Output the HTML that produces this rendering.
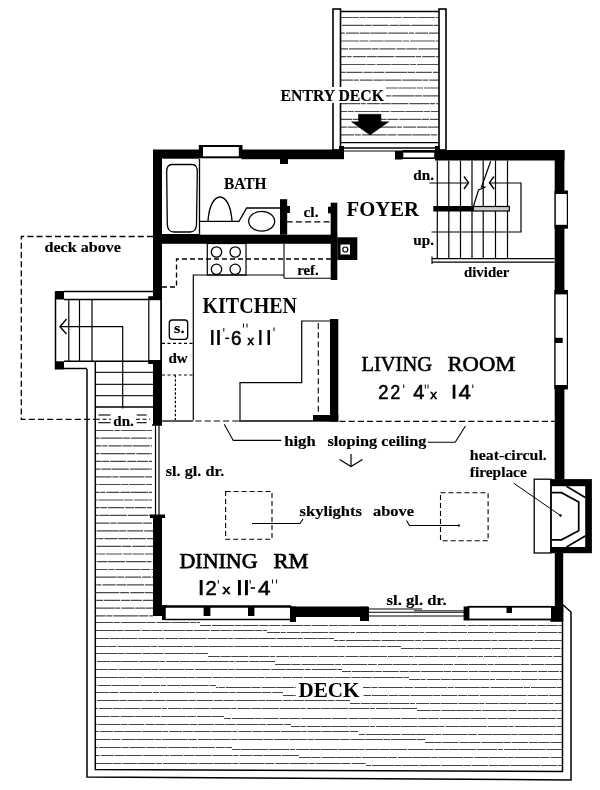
<!DOCTYPE html>
<html><head><meta charset="utf-8"><style>
html,body{margin:0;padding:0;background:#fff;width:600px;height:790px;overflow:hidden}
svg{display:block;will-change:transform}
</style></head><body>
<svg width="600" height="790" viewBox="0 0 600 790">
<rect x="0" y="0" width="600" height="790" fill="#fff"/>
<line x1="341" y1="17.5" x2="438.5" y2="17.5" stroke="#505050" stroke-width="1.2" stroke-dasharray="18,0.8,6,1,25,0.7,9,1.2,14,0.6" stroke-dashoffset="0"/>
<line x1="341" y1="25.3" x2="438.5" y2="25.3" stroke="#505050" stroke-width="1.2" stroke-dasharray="11,1,22,0.6,7,0.9,16,1.1,9,0.7" stroke-dashoffset="11"/>
<line x1="341" y1="33.2" x2="438.5" y2="33.2" stroke="#505050" stroke-width="1.2" stroke-dasharray="20,0.7,5,1.2,13,0.8,10,0.6,17,1" stroke-dashoffset="22"/>
<line x1="341" y1="41.0" x2="438.5" y2="41.0" stroke="#505050" stroke-width="1.2" stroke-dasharray="18,0.8,6,1,25,0.7,9,1.2,14,0.6" stroke-dashoffset="33"/>
<line x1="341" y1="48.8" x2="438.5" y2="48.8" stroke="#505050" stroke-width="1.2" stroke-dasharray="11,1,22,0.6,7,0.9,16,1.1,9,0.7" stroke-dashoffset="4"/>
<line x1="341" y1="56.6" x2="438.5" y2="56.6" stroke="#505050" stroke-width="1.2" stroke-dasharray="20,0.7,5,1.2,13,0.8,10,0.6,17,1" stroke-dashoffset="15"/>
<line x1="341" y1="64.5" x2="438.5" y2="64.5" stroke="#505050" stroke-width="1.2" stroke-dasharray="18,0.8,6,1,25,0.7,9,1.2,14,0.6" stroke-dashoffset="26"/>
<line x1="341" y1="72.3" x2="438.5" y2="72.3" stroke="#505050" stroke-width="1.2" stroke-dasharray="11,1,22,0.6,7,0.9,16,1.1,9,0.7" stroke-dashoffset="37"/>
<line x1="341" y1="80.1" x2="438.5" y2="80.1" stroke="#505050" stroke-width="1.2" stroke-dasharray="20,0.7,5,1.2,13,0.8,10,0.6,17,1" stroke-dashoffset="8"/>
<line x1="341" y1="88.0" x2="438.5" y2="88.0" stroke="#505050" stroke-width="1.2" stroke-dasharray="18,0.8,6,1,25,0.7,9,1.2,14,0.6" stroke-dashoffset="19"/>
<line x1="341" y1="95.8" x2="438.5" y2="95.8" stroke="#505050" stroke-width="1.2" stroke-dasharray="11,1,22,0.6,7,0.9,16,1.1,9,0.7" stroke-dashoffset="30"/>
<line x1="341" y1="103.6" x2="438.5" y2="103.6" stroke="#505050" stroke-width="1.2" stroke-dasharray="20,0.7,5,1.2,13,0.8,10,0.6,17,1" stroke-dashoffset="1"/>
<line x1="341" y1="111.5" x2="438.5" y2="111.5" stroke="#505050" stroke-width="1.2" stroke-dasharray="18,0.8,6,1,25,0.7,9,1.2,14,0.6" stroke-dashoffset="12"/>
<line x1="341" y1="119.3" x2="438.5" y2="119.3" stroke="#505050" stroke-width="1.2" stroke-dasharray="11,1,22,0.6,7,0.9,16,1.1,9,0.7" stroke-dashoffset="23"/>
<line x1="341" y1="127.1" x2="438.5" y2="127.1" stroke="#505050" stroke-width="1.2" stroke-dasharray="20,0.7,5,1.2,13,0.8,10,0.6,17,1" stroke-dashoffset="34"/>
<line x1="341" y1="134.9" x2="438.5" y2="134.9" stroke="#505050" stroke-width="1.2" stroke-dasharray="18,0.8,6,1,25,0.7,9,1.2,14,0.6" stroke-dashoffset="5"/>
<line x1="341.0" y1="11.5" x2="438.5" y2="11.5" stroke="#000" stroke-width="1.6"/>
<line x1="341.0" y1="142.7" x2="438.5" y2="142.7" stroke="#000" stroke-width="1.3"/>
<line x1="341.0" y1="148.0" x2="438.5" y2="148.0" stroke="#000" stroke-width="1.3"/>
<rect x="333.0" y="9.0" width="7.5" height="141.0" fill="#fff" stroke="#000" stroke-width="1.6"/>
<rect x="439.0" y="9.0" width="7.0" height="141.0" fill="#fff" stroke="#000" stroke-width="1.6"/>
<polygon points="358.5,114.3 381.0,114.3 381.0,121.8 388.8,121.8 370.0,135.0 351.5,121.8 358.5,121.8" fill="#000" stroke="#000" stroke-width="0.5"/>
<rect x="278.0" y="87.0" width="108.0" height="16.0" fill="#fff"/>
<text x="280.5" y="100.6" font-family='"Liberation Serif", serif' font-size="16" font-weight="bold" textLength="103.5" lengthAdjust="spacingAndGlyphs" stroke="#000" stroke-width="0.15">ENTRY DECK</text>
<line x1="95" y1="622.5" x2="200" y2="622.5" stroke="#444" stroke-width="1.2" stroke-dasharray="18,0.8,6,1,25,0.7,9,1.2,14,0.6" stroke-dashoffset="0"/>
<line x1="200" y1="625.5" x2="562" y2="625.5" stroke="#444" stroke-width="1.2" stroke-dasharray="11,1,22,0.6,7,0.9,16,1.1,9,0.7" stroke-dashoffset="0"/>
<line x1="95" y1="630.5" x2="267" y2="630.5" stroke="#444" stroke-width="1.2" stroke-dasharray="11,1,22,0.6,7,0.9,16,1.1,9,0.7" stroke-dashoffset="13"/>
<line x1="267" y1="632.5" x2="562" y2="632.5" stroke="#444" stroke-width="1.2" stroke-dasharray="20,0.7,5,1.2,13,0.8,10,0.6,17,1" stroke-dashoffset="7"/>
<line x1="95" y1="638.5" x2="334" y2="638.5" stroke="#444" stroke-width="1.2" stroke-dasharray="20,0.7,5,1.2,13,0.8,10,0.6,17,1" stroke-dashoffset="26"/>
<line x1="334" y1="640.5" x2="562" y2="640.5" stroke="#444" stroke-width="1.2" stroke-dasharray="18,0.8,6,1,25,0.7,9,1.2,14,0.6" stroke-dashoffset="14"/>
<line x1="95" y1="646.5" x2="401" y2="646.5" stroke="#444" stroke-width="1.2" stroke-dasharray="18,0.8,6,1,25,0.7,9,1.2,14,0.6" stroke-dashoffset="39"/>
<line x1="401" y1="648.5" x2="562" y2="648.5" stroke="#444" stroke-width="1.2" stroke-dasharray="11,1,22,0.6,7,0.9,16,1.1,9,0.7" stroke-dashoffset="21"/>
<line x1="95" y1="653.5" x2="208" y2="653.5" stroke="#444" stroke-width="1.2" stroke-dasharray="11,1,22,0.6,7,0.9,16,1.1,9,0.7" stroke-dashoffset="12"/>
<line x1="208" y1="656.5" x2="562" y2="656.5" stroke="#444" stroke-width="1.2" stroke-dasharray="20,0.7,5,1.2,13,0.8,10,0.6,17,1" stroke-dashoffset="28"/>
<line x1="95" y1="661.5" x2="275" y2="661.5" stroke="#444" stroke-width="1.2" stroke-dasharray="20,0.7,5,1.2,13,0.8,10,0.6,17,1" stroke-dashoffset="25"/>
<line x1="275" y1="664.5" x2="562" y2="664.5" stroke="#444" stroke-width="1.2" stroke-dasharray="18,0.8,6,1,25,0.7,9,1.2,14,0.6" stroke-dashoffset="35"/>
<line x1="95" y1="669.5" x2="342" y2="669.5" stroke="#444" stroke-width="1.2" stroke-dasharray="18,0.8,6,1,25,0.7,9,1.2,14,0.6" stroke-dashoffset="38"/>
<line x1="342" y1="671.5" x2="562" y2="671.5" stroke="#444" stroke-width="1.2" stroke-dasharray="11,1,22,0.6,7,0.9,16,1.1,9,0.7" stroke-dashoffset="2"/>
<line x1="95" y1="677.5" x2="409" y2="677.5" stroke="#444" stroke-width="1.2" stroke-dasharray="11,1,22,0.6,7,0.9,16,1.1,9,0.7" stroke-dashoffset="11"/>
<line x1="409" y1="679.5" x2="562" y2="679.5" stroke="#444" stroke-width="1.2" stroke-dasharray="20,0.7,5,1.2,13,0.8,10,0.6,17,1" stroke-dashoffset="9"/>
<line x1="95" y1="685.5" x2="216" y2="685.5" stroke="#444" stroke-width="1.2" stroke-dasharray="20,0.7,5,1.2,13,0.8,10,0.6,17,1" stroke-dashoffset="24"/>
<line x1="216" y1="687.5" x2="562" y2="687.5" stroke="#444" stroke-width="1.2" stroke-dasharray="18,0.8,6,1,25,0.7,9,1.2,14,0.6" stroke-dashoffset="16"/>
<line x1="95" y1="692.5" x2="283" y2="692.5" stroke="#444" stroke-width="1.2" stroke-dasharray="18,0.8,6,1,25,0.7,9,1.2,14,0.6" stroke-dashoffset="37"/>
<line x1="283" y1="695.5" x2="562" y2="695.5" stroke="#444" stroke-width="1.2" stroke-dasharray="11,1,22,0.6,7,0.9,16,1.1,9,0.7" stroke-dashoffset="23"/>
<line x1="95" y1="700.5" x2="350" y2="700.5" stroke="#444" stroke-width="1.2" stroke-dasharray="11,1,22,0.6,7,0.9,16,1.1,9,0.7" stroke-dashoffset="10"/>
<line x1="350" y1="703.5" x2="562" y2="703.5" stroke="#444" stroke-width="1.2" stroke-dasharray="20,0.7,5,1.2,13,0.8,10,0.6,17,1" stroke-dashoffset="30"/>
<line x1="95" y1="708.5" x2="417" y2="708.5" stroke="#444" stroke-width="1.2" stroke-dasharray="20,0.7,5,1.2,13,0.8,10,0.6,17,1" stroke-dashoffset="23"/>
<line x1="417" y1="710.5" x2="562" y2="710.5" stroke="#444" stroke-width="1.2" stroke-dasharray="18,0.8,6,1,25,0.7,9,1.2,14,0.6" stroke-dashoffset="37"/>
<line x1="95" y1="716.5" x2="224" y2="716.5" stroke="#444" stroke-width="1.2" stroke-dasharray="18,0.8,6,1,25,0.7,9,1.2,14,0.6" stroke-dashoffset="36"/>
<line x1="224" y1="718.5" x2="562" y2="718.5" stroke="#444" stroke-width="1.2" stroke-dasharray="11,1,22,0.6,7,0.9,16,1.1,9,0.7" stroke-dashoffset="4"/>
<line x1="95" y1="724.5" x2="291" y2="724.5" stroke="#444" stroke-width="1.2" stroke-dasharray="11,1,22,0.6,7,0.9,16,1.1,9,0.7" stroke-dashoffset="9"/>
<line x1="291" y1="726.5" x2="562" y2="726.5" stroke="#444" stroke-width="1.2" stroke-dasharray="20,0.7,5,1.2,13,0.8,10,0.6,17,1" stroke-dashoffset="11"/>
<line x1="95" y1="731.5" x2="358" y2="731.5" stroke="#444" stroke-width="1.2" stroke-dasharray="20,0.7,5,1.2,13,0.8,10,0.6,17,1" stroke-dashoffset="22"/>
<line x1="358" y1="734.5" x2="562" y2="734.5" stroke="#444" stroke-width="1.2" stroke-dasharray="18,0.8,6,1,25,0.7,9,1.2,14,0.6" stroke-dashoffset="18"/>
<line x1="95" y1="739.5" x2="425" y2="739.5" stroke="#444" stroke-width="1.2" stroke-dasharray="18,0.8,6,1,25,0.7,9,1.2,14,0.6" stroke-dashoffset="35"/>
<line x1="425" y1="742.5" x2="562" y2="742.5" stroke="#444" stroke-width="1.2" stroke-dasharray="11,1,22,0.6,7,0.9,16,1.1,9,0.7" stroke-dashoffset="25"/>
<line x1="95" y1="747.5" x2="232" y2="747.5" stroke="#444" stroke-width="1.2" stroke-dasharray="11,1,22,0.6,7,0.9,16,1.1,9,0.7" stroke-dashoffset="8"/>
<line x1="232" y1="749.5" x2="562" y2="749.5" stroke="#444" stroke-width="1.2" stroke-dasharray="20,0.7,5,1.2,13,0.8,10,0.6,17,1" stroke-dashoffset="32"/>
<line x1="95" y1="755.5" x2="299" y2="755.5" stroke="#444" stroke-width="1.2" stroke-dasharray="20,0.7,5,1.2,13,0.8,10,0.6,17,1" stroke-dashoffset="21"/>
<line x1="299" y1="757.5" x2="562" y2="757.5" stroke="#444" stroke-width="1.2" stroke-dasharray="18,0.8,6,1,25,0.7,9,1.2,14,0.6" stroke-dashoffset="39"/>
<line x1="95" y1="763.5" x2="366" y2="763.5" stroke="#444" stroke-width="1.2" stroke-dasharray="18,0.8,6,1,25,0.7,9,1.2,14,0.6" stroke-dashoffset="34"/>
<line x1="366" y1="765.5" x2="562" y2="765.5" stroke="#444" stroke-width="1.2" stroke-dasharray="11,1,22,0.6,7,0.9,16,1.1,9,0.7" stroke-dashoffset="6"/>
<polyline points="87.0,420.0 87.0,777.0 571.0,780.0 571.0,612.0 562.5,604.5" fill="none" stroke="#000" stroke-width="1.5"/>
<polyline points="95.3,361.3 95.3,769.5 562.5,771.5 562.5,604.5" fill="none" stroke="#000" stroke-width="1.5"/>
<rect x="296.0" y="678.0" width="67.0" height="22.0" fill="#fff"/>
<text x="298.5" y="696.5" font-family='"Liberation Serif", serif' font-size="21" font-weight="bold" textLength="61.0" lengthAdjust="spacingAndGlyphs" >DECK</text>
<line x1="95.6" y1="372.3" x2="153.0" y2="372.3" stroke="#222" stroke-width="1.3"/>
<line x1="95.6" y1="384.3" x2="153.0" y2="384.3" stroke="#222" stroke-width="1.3"/>
<line x1="95.6" y1="395.7" x2="153.0" y2="395.7" stroke="#222" stroke-width="1.3"/>
<line x1="95.6" y1="407.0" x2="153.0" y2="407.0" stroke="#000" stroke-width="1.7"/>
<line x1="95.6" y1="430.5" x2="153" y2="430.5" stroke="#4a4a4a" stroke-width="1.2" stroke-dasharray="18,0.8,6,1,25,0.7,9,1.2,14,0.6" stroke-dashoffset="0"/>
<line x1="95.6" y1="438.2" x2="153" y2="438.2" stroke="#4a4a4a" stroke-width="1.2" stroke-dasharray="11,1,22,0.6,7,0.9,16,1.1,9,0.7" stroke-dashoffset="7"/>
<line x1="95.6" y1="445.9" x2="153" y2="445.9" stroke="#4a4a4a" stroke-width="1.2" stroke-dasharray="20,0.7,5,1.2,13,0.8,10,0.6,17,1" stroke-dashoffset="14"/>
<line x1="95.6" y1="453.7" x2="153" y2="453.7" stroke="#4a4a4a" stroke-width="1.2" stroke-dasharray="18,0.8,6,1,25,0.7,9,1.2,14,0.6" stroke-dashoffset="21"/>
<line x1="95.6" y1="461.4" x2="153" y2="461.4" stroke="#4a4a4a" stroke-width="1.2" stroke-dasharray="11,1,22,0.6,7,0.9,16,1.1,9,0.7" stroke-dashoffset="28"/>
<line x1="95.6" y1="469.1" x2="153" y2="469.1" stroke="#4a4a4a" stroke-width="1.2" stroke-dasharray="20,0.7,5,1.2,13,0.8,10,0.6,17,1" stroke-dashoffset="35"/>
<line x1="95.6" y1="476.8" x2="153" y2="476.8" stroke="#4a4a4a" stroke-width="1.2" stroke-dasharray="18,0.8,6,1,25,0.7,9,1.2,14,0.6" stroke-dashoffset="2"/>
<line x1="95.6" y1="484.5" x2="153" y2="484.5" stroke="#4a4a4a" stroke-width="1.2" stroke-dasharray="11,1,22,0.6,7,0.9,16,1.1,9,0.7" stroke-dashoffset="9"/>
<line x1="95.6" y1="492.3" x2="153" y2="492.3" stroke="#4a4a4a" stroke-width="1.2" stroke-dasharray="20,0.7,5,1.2,13,0.8,10,0.6,17,1" stroke-dashoffset="16"/>
<line x1="95.6" y1="500.0" x2="153" y2="500.0" stroke="#4a4a4a" stroke-width="1.2" stroke-dasharray="18,0.8,6,1,25,0.7,9,1.2,14,0.6" stroke-dashoffset="23"/>
<line x1="95.6" y1="507.7" x2="153" y2="507.7" stroke="#4a4a4a" stroke-width="1.2" stroke-dasharray="11,1,22,0.6,7,0.9,16,1.1,9,0.7" stroke-dashoffset="30"/>
<line x1="95.6" y1="515.4" x2="153" y2="515.4" stroke="#4a4a4a" stroke-width="1.2" stroke-dasharray="20,0.7,5,1.2,13,0.8,10,0.6,17,1" stroke-dashoffset="37"/>
<line x1="95.6" y1="523.1" x2="153" y2="523.1" stroke="#4a4a4a" stroke-width="1.2" stroke-dasharray="18,0.8,6,1,25,0.7,9,1.2,14,0.6" stroke-dashoffset="4"/>
<line x1="95.6" y1="530.9" x2="153" y2="530.9" stroke="#4a4a4a" stroke-width="1.2" stroke-dasharray="11,1,22,0.6,7,0.9,16,1.1,9,0.7" stroke-dashoffset="11"/>
<line x1="95.6" y1="538.6" x2="153" y2="538.6" stroke="#4a4a4a" stroke-width="1.2" stroke-dasharray="20,0.7,5,1.2,13,0.8,10,0.6,17,1" stroke-dashoffset="18"/>
<line x1="95.6" y1="546.3" x2="153" y2="546.3" stroke="#4a4a4a" stroke-width="1.2" stroke-dasharray="18,0.8,6,1,25,0.7,9,1.2,14,0.6" stroke-dashoffset="25"/>
<line x1="95.6" y1="554.0" x2="153" y2="554.0" stroke="#4a4a4a" stroke-width="1.2" stroke-dasharray="11,1,22,0.6,7,0.9,16,1.1,9,0.7" stroke-dashoffset="32"/>
<line x1="95.6" y1="561.7" x2="153" y2="561.7" stroke="#4a4a4a" stroke-width="1.2" stroke-dasharray="20,0.7,5,1.2,13,0.8,10,0.6,17,1" stroke-dashoffset="39"/>
<line x1="95.6" y1="569.5" x2="153" y2="569.5" stroke="#4a4a4a" stroke-width="1.2" stroke-dasharray="18,0.8,6,1,25,0.7,9,1.2,14,0.6" stroke-dashoffset="6"/>
<line x1="95.6" y1="577.2" x2="153" y2="577.2" stroke="#4a4a4a" stroke-width="1.2" stroke-dasharray="11,1,22,0.6,7,0.9,16,1.1,9,0.7" stroke-dashoffset="13"/>
<line x1="95.6" y1="584.9" x2="153" y2="584.9" stroke="#4a4a4a" stroke-width="1.2" stroke-dasharray="20,0.7,5,1.2,13,0.8,10,0.6,17,1" stroke-dashoffset="20"/>
<line x1="95.6" y1="592.6" x2="153" y2="592.6" stroke="#4a4a4a" stroke-width="1.2" stroke-dasharray="18,0.8,6,1,25,0.7,9,1.2,14,0.6" stroke-dashoffset="27"/>
<line x1="95.6" y1="600.3" x2="153" y2="600.3" stroke="#4a4a4a" stroke-width="1.2" stroke-dasharray="11,1,22,0.6,7,0.9,16,1.1,9,0.7" stroke-dashoffset="34"/>
<line x1="95.6" y1="608.1" x2="153" y2="608.1" stroke="#4a4a4a" stroke-width="1.2" stroke-dasharray="20,0.7,5,1.2,13,0.8,10,0.6,17,1" stroke-dashoffset="1"/>
<line x1="95.6" y1="615.8" x2="153" y2="615.8" stroke="#4a4a4a" stroke-width="1.2" stroke-dasharray="18,0.8,6,1,25,0.7,9,1.2,14,0.6" stroke-dashoffset="8"/>
<line x1="87.0" y1="369.0" x2="87.0" y2="420.0" stroke="#000" stroke-width="1.5"/>
<line x1="55.5" y1="291.5" x2="55.5" y2="369.3" stroke="#000" stroke-width="1.5"/>
<line x1="64.0" y1="291.5" x2="153.0" y2="291.5" stroke="#000" stroke-width="1.5"/>
<line x1="64.0" y1="299.5" x2="153.0" y2="299.5" stroke="#000" stroke-width="1.5"/>
<rect x="55.2" y="291.0" width="8.8" height="8.5" fill="#000"/>
<rect x="55.2" y="361.3" width="8.8" height="8.2" fill="#000"/>
<line x1="64.0" y1="368.5" x2="87.0" y2="368.5" stroke="#000" stroke-width="1.5"/>
<line x1="64.0" y1="361.3" x2="153.0" y2="361.3" stroke="#000" stroke-width="1.5"/>
<line x1="68.8" y1="299.5" x2="68.8" y2="361.3" stroke="#000" stroke-width="1.2"/>
<line x1="79.5" y1="299.5" x2="79.5" y2="361.3" stroke="#000" stroke-width="1.2"/>
<line x1="92.0" y1="299.5" x2="92.0" y2="361.3" stroke="#000" stroke-width="1.2"/>
<polyline points="60.0,326.7 122.7,326.7 122.7,412.0" fill="none" stroke="#000" stroke-width="1.2"/>
<polyline points="66.5,319.0 60.0,326.7 66.5,334.0" fill="none" stroke="#000" stroke-width="1.4"/>
<rect x="96.0" y="408.5" width="56.0" height="21.0" fill="#fff"/>
<line x1="98.4" y1="415.0" x2="110.5" y2="415.0" stroke="#000" stroke-width="1.1"/>
<line x1="136.7" y1="415.0" x2="146.6" y2="415.0" stroke="#000" stroke-width="1.1"/>
<line x1="98.4" y1="422.7" x2="110.5" y2="422.7" stroke="#000" stroke-width="1.1"/>
<line x1="136.7" y1="422.7" x2="146.6" y2="422.7" stroke="#000" stroke-width="1.1"/>
<line x1="96.0" y1="419.3" x2="111.0" y2="419.3" stroke="#000" stroke-width="1.1" stroke-dasharray="4,2.5"/>
<line x1="136.0" y1="419.3" x2="150.0" y2="419.3" stroke="#000" stroke-width="1.1" stroke-dasharray="4,2.5"/>
<text x="113.3" y="426.2" font-family='"Liberation Serif", serif' font-size="15" font-weight="bold" textLength="20.5" lengthAdjust="spacingAndGlyphs" stroke="#000" stroke-width="0.15">dn.</text>
<polyline points="153.0,236.5 21.3,236.5 21.3,419.3 95.0,419.3" fill="none" stroke="#000" stroke-width="1.3" stroke-dasharray="6,3.2"/>
<text x="44.5" y="251.5" font-family='"Liberation Serif", serif' font-size="15.5" font-weight="bold" textLength="76.5" lengthAdjust="spacingAndGlyphs" stroke="#000" stroke-width="0.15">deck above</text>
<rect x="160.0" y="159.0" width="396.0" height="448.0" fill="#fff"/>
<rect x="153.0" y="149.5" width="46.5" height="9.2" fill="#000"/>
<rect x="241.5" y="149.5" width="102.5" height="9.7" fill="#000"/>
<rect x="280.0" y="159.0" width="8.0" height="5.0" fill="#000"/>
<rect x="339.0" y="146.0" width="5.0" height="5.0" fill="#000"/>
<rect x="395.0" y="150.5" width="7.5" height="9.0" fill="#000"/>
<rect x="435.0" y="150.0" width="129.5" height="10.5" fill="#000"/>
<rect x="435.0" y="146.0" width="4.5" height="5.0" fill="#000"/>
<rect x="198.8" y="145.0" width="43.7" height="13.3" fill="#000"/>
<rect x="203.0" y="147.0" width="35.8" height="9.3" fill="#fff"/>
<rect x="402.5" y="151.5" width="32.5" height="6.7" fill="#fff" stroke="#000" stroke-width="1.6"/>
<line x1="402.5" y1="151.3" x2="435.0" y2="151.3" stroke="#000" stroke-width="2.4"/>
<line x1="344.0" y1="151.0" x2="395.0" y2="151.0" stroke="#000" stroke-width="1.2"/>
<rect x="554.7" y="150.0" width="9.7" height="329.5" fill="#000"/>
<rect x="554.8" y="552.5" width="8.4" height="59.5" fill="#000"/>
<rect x="550.4" y="608.7" width="12.8" height="13.1" fill="#000"/>
<rect x="554.5" y="190.5" width="13.5" height="38.2" fill="#000"/>
<rect x="555.8" y="194.0" width="11.0" height="30.8" fill="#fff"/>
<rect x="554.3" y="289.9" width="13.7" height="99.5" fill="#000"/>
<rect x="555.6" y="294.4" width="11.2" height="90.6" fill="#fff"/>
<rect x="555.0" y="337.8" width="7.7" height="5.2" fill="#000"/>
<rect x="153.0" y="150.0" width="9.0" height="466.0" fill="#000"/>
<rect x="148.2" y="296.2" width="13.3" height="67.8" fill="#000"/>
<rect x="149.4" y="300.2" width="10.8" height="59.8" fill="#fff"/>
<rect x="152.0" y="425.0" width="10.0" height="92.0" fill="#fff"/>
<line x1="155.5" y1="425.0" x2="155.5" y2="517.0" stroke="#000" stroke-width="1.2"/>
<line x1="159.0" y1="425.0" x2="159.0" y2="517.0" stroke="#000" stroke-width="1.2"/>
<rect x="150.0" y="514.5" width="15.0" height="3.5" fill="#000"/>
<line x1="152.0" y1="425.0" x2="162.0" y2="425.0" stroke="#000" stroke-width="1.5"/>
<rect x="162.0" y="605.0" width="5.0" height="15.0" fill="#000"/>
<line x1="162.0" y1="606.5" x2="291.0" y2="606.5" stroke="#000" stroke-width="2.5"/>
<rect x="165.0" y="607.0" width="126.0" height="12.5" fill="#fff" stroke="#000" stroke-width="1.5"/>
<rect x="203.6" y="607.0" width="6.8" height="9.0" fill="#000"/>
<rect x="248.0" y="607.0" width="6.4" height="9.0" fill="#000"/>
<rect x="290.0" y="606.5" width="78.0" height="10.5" fill="#000"/>
<rect x="290.0" y="606.5" width="6.0" height="15.5" fill="#000"/>
<rect x="360.0" y="606.8" width="9.0" height="14.2" fill="#000"/>
<line x1="368.0" y1="609.0" x2="422.0" y2="609.0" stroke="#000" stroke-width="1.1"/>
<line x1="368.0" y1="612.3" x2="464.0" y2="612.3" stroke="#000" stroke-width="1.1"/>
<line x1="414.0" y1="610.8" x2="464.0" y2="610.8" stroke="#000" stroke-width="0.9"/>
<line x1="368.0" y1="616.0" x2="464.0" y2="616.0" stroke="#000" stroke-width="1.1"/>
<rect x="463.6" y="606.5" width="4.9" height="14.0" fill="#000"/>
<rect x="468.5" y="606.8" width="83.5" height="12.7" fill="#fff" stroke="#000" stroke-width="1.8"/>
<rect x="506.5" y="607.0" width="5.5" height="6.0" fill="#000"/>
<rect x="551.0" y="606.0" width="5.0" height="15.0" fill="#000"/>
<rect x="534.2" y="479.2" width="16.6" height="73.8" fill="#fff" stroke="#000" stroke-width="1.3"/>
<rect x="550.4" y="479.1" width="41.5" height="74.1" fill="#000"/>
<rect x="551.9" y="486.2" width="33.3" height="60.8" fill="#fff"/>
<polyline points="566.5,486.2 585.2,497.5" fill="none" stroke="#000" stroke-width="1.6"/>
<polyline points="585.2,536.0 566.5,547.0" fill="none" stroke="#000" stroke-width="1.6"/>
<polyline points="552.0,492.7 561.5,492.7 578.7,502.0 578.7,530.7 561.5,539.8 552.0,539.8" fill="none" stroke="#000" stroke-width="1.7"/>
<circle cx="560.5" cy="515.5" r="0.9" fill="#000" stroke="#000" stroke-width="1"/>
<line x1="513.8" y1="483.3" x2="560.5" y2="515.5" stroke="#000" stroke-width="1"/>
<rect x="153.0" y="234.7" width="184.3" height="9.1" fill="#000"/>
<line x1="199.5" y1="159.0" x2="199.5" y2="234.7" stroke="#000" stroke-width="1.3"/>
<path d="M172,164.5 L192,164.5 Q197.5,164.5 197.3,172 L196.5,224 Q196.3,232 190,232 L174,232 Q167.5,232 167.3,224 L166.7,172 Q166.5,164.5 172,164.5 Z" fill="none" stroke="#000" stroke-width="1.3"/>
<line x1="162.0" y1="234.7" x2="199.5" y2="234.7" stroke="#000" stroke-width="1.2"/>
<path d="M208,221 C209,206 214,197 220,197 C226,197 231,206 232,221" fill="none" stroke="#000" stroke-width="1.3"/>
<polyline points="199.5,221.3 239.0,221.3 246.7,208.0 280.0,208.0" fill="none" stroke="#000" stroke-width="1.3"/>
<ellipse cx="261.7" cy="221.3" rx="13" ry="9.9" fill="none" stroke="#000" stroke-width="1.3"/>
<text x="224.0" y="189.3" font-family='"Liberation Serif", serif' font-size="16.5" font-weight="bold" textLength="42.5" lengthAdjust="spacingAndGlyphs" stroke="#000" stroke-width="0.15">BATH</text>
<rect x="280.0" y="199.2" width="7.2" height="35.5" fill="#000"/>
<rect x="287.0" y="206.0" width="3.0" height="7.0" fill="#000"/>
<rect x="328.0" y="206.7" width="3.0" height="6.6" fill="#000"/>
<rect x="330.7" y="202.7" width="6.6" height="77.3" fill="#000"/>
<line x1="286.7" y1="221.9" x2="330.7" y2="221.9" stroke="#000" stroke-width="1.2" stroke-dasharray="6,3.2"/>
<text x="303.5" y="217.3" font-family='"Liberation Serif", serif' font-size="14" font-weight="bold" textLength="15.0" lengthAdjust="spacingAndGlyphs" stroke="#000" stroke-width="0.15">cl.</text>
<rect x="337.3" y="237.3" width="20.0" height="22.7" fill="#000"/>
<rect x="340.5" y="244.5" width="9.5" height="10.0" fill="#fff"/>
<circle cx="345.3" cy="249.5" r="2.5" fill="none" stroke="#000" stroke-width="1.2"/>
<line x1="284.0" y1="244.0" x2="284.0" y2="278.3" stroke="#000" stroke-width="1.1"/>
<line x1="284.0" y1="278.3" x2="331.0" y2="278.3" stroke="#000" stroke-width="1.1"/>
<text x="297.3" y="274.7" font-family='"Liberation Serif", serif' font-size="14" font-weight="bold" textLength="21.4" lengthAdjust="spacingAndGlyphs" stroke="#000" stroke-width="0.15">ref.</text>
<rect x="207.3" y="243.5" width="38.7" height="31.5" fill="none" stroke="#000" stroke-width="1.2"/>
<circle cx="216.5" cy="252.0" r="5.2" fill="none" stroke="#000" stroke-width="1.3"/>
<circle cx="235.2" cy="252.0" r="5.2" fill="none" stroke="#000" stroke-width="1.3"/>
<circle cx="216.5" cy="269.3" r="5.2" fill="none" stroke="#000" stroke-width="1.3"/>
<circle cx="235.2" cy="269.3" r="5.2" fill="none" stroke="#000" stroke-width="1.3"/>
<polyline points="162.0,287.0 176.5,287.0 176.5,259.0 331.0,259.0" fill="none" stroke="#000" stroke-width="1.3" stroke-dasharray="5,3"/>
<polyline points="193.3,420.0 193.3,275.0 284.0,275.0" fill="none" stroke="#000" stroke-width="1.2"/>
<line x1="162.0" y1="343.3" x2="193.3" y2="343.3" stroke="#000" stroke-width="1.2" stroke-dasharray="3,2.5"/>
<line x1="162.0" y1="375.0" x2="193.3" y2="375.0" stroke="#000" stroke-width="1.2" stroke-dasharray="3,2.5"/>
<line x1="175.4" y1="375.0" x2="175.4" y2="420.0" stroke="#000" stroke-width="1.2" stroke-dasharray="2.5,1.8"/>
<rect x="169.3" y="320" width="18.4" height="19.3" rx="3" fill="none" stroke="#000" stroke-width="1.3"/>
<text x="174.0" y="332.8" font-family='"Liberation Serif", serif' font-size="14.5" font-weight="bold" textLength="10.5" lengthAdjust="spacingAndGlyphs" stroke="#000" stroke-width="0.15">s.</text>
<text x="168.5" y="363.2" font-family='"Liberation Serif", serif' font-size="14.5" font-weight="bold" textLength="19.2" lengthAdjust="spacingAndGlyphs" stroke="#000" stroke-width="0.15">dw</text>
<text x="202.5" y="312.7" font-family='"Liberation Serif", serif' font-size="22.5" font-weight="bold" textLength="94.5" lengthAdjust="spacingAndGlyphs" >KITCHEN</text>
<polyline points="240.0,420.0 240.0,382.7 301.7,382.7 301.7,321.0 331.7,321.0" fill="none" stroke="#000" stroke-width="1.2"/>
<line x1="318.3" y1="323.0" x2="318.3" y2="415.0" stroke="#000" stroke-width="1.1" stroke-dasharray="6,3.2"/>
<rect x="330.0" y="319.0" width="8.3" height="102.7" fill="#000"/>
<rect x="313.0" y="415.0" width="25.3" height="6.7" fill="#000"/>
<line x1="437.3" y1="160.5" x2="437.3" y2="258.7" stroke="#000" stroke-width="1.2"/>
<line x1="448.8" y1="160.5" x2="448.8" y2="258.7" stroke="#000" stroke-width="1.2"/>
<line x1="460.5" y1="160.5" x2="460.5" y2="258.7" stroke="#000" stroke-width="1.2"/>
<line x1="472.0" y1="160.5" x2="472.0" y2="258.7" stroke="#000" stroke-width="1.2"/>
<line x1="483.2" y1="160.5" x2="483.2" y2="258.7" stroke="#000" stroke-width="1.2"/>
<line x1="495.5" y1="160.5" x2="495.5" y2="258.7" stroke="#000" stroke-width="1.2"/>
<line x1="507.5" y1="160.5" x2="507.5" y2="258.7" stroke="#000" stroke-width="1.2"/>
<line x1="432.0" y1="258.7" x2="554.7" y2="258.7" stroke="#000" stroke-width="1.3"/>
<line x1="432.0" y1="262.1" x2="554.7" y2="262.1" stroke="#000" stroke-width="1.3"/>
<line x1="432.0" y1="256.5" x2="432.0" y2="264.0" stroke="#000" stroke-width="1.1"/>
<rect x="433.3" y="206.0" width="40.0" height="5.5" fill="#000"/>
<rect x="473.3" y="206.5" width="36.0" height="4.5" fill="#ccc" stroke="#000" stroke-width="1.2"/>
<polyline points="490.7,161.3 481.5,187.0 485.5,187.0 478.5,190.0 472.0,210.7" fill="none" stroke="#000" stroke-width="1.2"/>
<line x1="429.5" y1="183.0" x2="468.0" y2="183.0" stroke="#000" stroke-width="1.2"/>
<polyline points="464.0,176.5 468.5,182.7 464.0,189.0" fill="none" stroke="#000" stroke-width="1.4"/>
<polyline points="489.3,183.0 521.0,183.0 521.0,232.0 431.6,232.0" fill="none" stroke="#000" stroke-width="1.2"/>
<polyline points="494.0,176.5 489.5,182.7 494.0,189.0" fill="none" stroke="#000" stroke-width="1.4"/>
<text x="413.3" y="179.5" font-family='"Liberation Serif", serif' font-size="14" font-weight="bold" textLength="20.7" lengthAdjust="spacingAndGlyphs" stroke="#000" stroke-width="0.15">dn.</text>
<text x="413.3" y="245.0" font-family='"Liberation Serif", serif' font-size="14" font-weight="bold" textLength="20.7" lengthAdjust="spacingAndGlyphs" stroke="#000" stroke-width="0.15">up.</text>
<text x="464.0" y="277.3" font-family='"Liberation Serif", serif' font-size="15" font-weight="bold" textLength="45.3" lengthAdjust="spacingAndGlyphs" stroke="#000" stroke-width="0.15">divider</text>
<text x="346.5" y="215.5" font-family='"Liberation Serif", serif' font-size="20.3" font-weight="bold" textLength="72.5" lengthAdjust="spacingAndGlyphs" >FOYER</text>
<line x1="162.0" y1="421.0" x2="193.3" y2="421.0" stroke="#000" stroke-width="1.3"/>
<line x1="195.5" y1="421.0" x2="238.0" y2="421.0" stroke="#000" stroke-width="1.2" stroke-dasharray="6,3.2"/>
<line x1="238.5" y1="421.0" x2="313.0" y2="421.0" stroke="#000" stroke-width="1.3"/>
<line x1="339.5" y1="421.3" x2="554.7" y2="421.3" stroke="#000" stroke-width="1.2" stroke-dasharray="6,3.2"/>
<text x="361.5" y="371.0" font-family='"Liberation Serif", serif' font-size="22" font-weight="normal" textLength="70.5" lengthAdjust="spacingAndGlyphs" stroke="#000" stroke-width="0.6">LIVING</text>
<text x="447.5" y="371.0" font-family='"Liberation Serif", serif' font-size="22" font-weight="normal" textLength="68.0" lengthAdjust="spacingAndGlyphs" stroke="#000" stroke-width="0.6">ROOM</text>
<polyline points="224.2,424.2 233.3,440.4 281.2,440.4" fill="none" stroke="#000" stroke-width="1.1"/>
<polyline points="465.4,426.0 455.2,442.3 427.7,442.3" fill="none" stroke="#000" stroke-width="1.1"/>
<text x="284.2" y="446.2" font-family='"Liberation Serif", serif' font-size="14.5" font-weight="bold" textLength="31.5" lengthAdjust="spacingAndGlyphs" stroke="#000" stroke-width="0.15">high</text>
<text x="327.5" y="446.2" font-family='"Liberation Serif", serif' font-size="14.5" font-weight="bold" textLength="99.0" lengthAdjust="spacingAndGlyphs" stroke="#000" stroke-width="0.15">sloping ceiling</text>
<line x1="351.0" y1="454.0" x2="351.0" y2="466.5" stroke="#000" stroke-width="1.2"/>
<polyline points="339.6,459.5 351.0,466.5 362.5,459.5" fill="none" stroke="#000" stroke-width="1.3"/>
<text x="165.8" y="475.8" font-family='"Liberation Serif", serif' font-size="14.5" font-weight="bold" textLength="58.4" lengthAdjust="spacingAndGlyphs" stroke="#000" stroke-width="0.15">sl. gl. dr.</text>
<text x="469.8" y="460.2" font-family='"Liberation Serif", serif' font-size="15" font-weight="bold" textLength="77.0" lengthAdjust="spacingAndGlyphs" stroke="#000" stroke-width="0.15">heat-circul.</text>
<text x="469.8" y="476.5" font-family='"Liberation Serif", serif' font-size="15" font-weight="bold" textLength="57.0" lengthAdjust="spacingAndGlyphs" stroke="#000" stroke-width="0.15">fireplace</text>
<rect x="225.6" y="491.5" width="46.4" height="47.8" fill="none" stroke="#000" stroke-width="1.1" stroke-dasharray="5,3"/>
<rect x="440.5" y="492.8" width="47.6" height="48" fill="none" stroke="#000" stroke-width="1.1" stroke-dasharray="5,3"/>
<polyline points="252.0,523.5 300.0,523.5 303.0,519.0" fill="none" stroke="#000" stroke-width="1.1"/>
<polyline points="406.5,520.5 409.5,525.5 458.8,525.5" fill="none" stroke="#000" stroke-width="1.1"/>
<circle cx="458.8" cy="525.5" r="0.8" fill="#000" stroke="#000" stroke-width="1"/>
<text x="299.5" y="516.0" font-family='"Liberation Serif", serif' font-size="14.5" font-weight="bold" textLength="62.5" lengthAdjust="spacingAndGlyphs" stroke="#000" stroke-width="0.15">skylights</text>
<text x="373.0" y="516.0" font-family='"Liberation Serif", serif' font-size="14.5" font-weight="bold" textLength="41.0" lengthAdjust="spacingAndGlyphs" stroke="#000" stroke-width="0.15">above</text>
<text x="179.5" y="567.7" font-family='"Liberation Serif", serif' font-size="22" font-weight="normal" textLength="78.0" lengthAdjust="spacingAndGlyphs" stroke="#000" stroke-width="0.75">DINING</text>
<text x="273.5" y="567.7" font-family='"Liberation Serif", serif' font-size="22" font-weight="normal" textLength="35.0" lengthAdjust="spacingAndGlyphs" stroke="#000" stroke-width="0.75">RM</text>
<text x="386.6" y="605.1" font-family='"Liberation Serif", serif' font-size="14" font-weight="bold" textLength="60.0" lengthAdjust="spacingAndGlyphs" stroke="#000" stroke-width="0.15">sl. gl. dr.</text>
<rect x="211.1" y="330.0" width="2.4" height="15.0" fill="#000"/>
<rect x="217.2" y="330.0" width="2.6" height="15.0" fill="#000"/>
<line x1="223.8" y1="328.0" x2="223.8" y2="331.5" stroke="#000" stroke-width="1"/>
<line x1="225.3" y1="338.3" x2="229.0" y2="338.3" stroke="#000" stroke-width="1.5"/>
<text x="231.0" y="345.0" font-family='"Liberation Sans", sans-serif' font-size="19.5" font-weight="normal" textLength="10.5" lengthAdjust="spacingAndGlyphs" stroke="#000" stroke-width="0.6">6</text>
<line x1="243.5" y1="323.5" x2="243.5" y2="327.5" stroke="#000" stroke-width="1"/>
<line x1="247.0" y1="323.5" x2="247.0" y2="327.5" stroke="#000" stroke-width="1"/>
<text x="247.5" y="345.0" font-family='"Liberation Sans", sans-serif' font-size="12.5" font-weight="normal" textLength="6.5" lengthAdjust="spacingAndGlyphs" stroke="#000" stroke-width="0.6">x</text>
<rect x="259.2" y="330.0" width="2.3" height="15.0" fill="#000"/>
<rect x="267.5" y="330.0" width="2.5" height="15.0" fill="#000"/>
<line x1="274.0" y1="327.5" x2="274.0" y2="331.0" stroke="#000" stroke-width="1"/>
<text x="378.2" y="398.8" font-family='"Liberation Sans", sans-serif' font-size="19.5" font-weight="normal" textLength="10.2" lengthAdjust="spacingAndGlyphs" stroke="#000" stroke-width="0.6">2</text>
<text x="390.6" y="398.8" font-family='"Liberation Sans", sans-serif' font-size="19.5" font-weight="normal" textLength="9.7" lengthAdjust="spacingAndGlyphs" stroke="#000" stroke-width="0.6">2</text>
<line x1="403.7" y1="384.5" x2="403.7" y2="388.0" stroke="#000" stroke-width="1"/>
<text x="413.3" y="398.8" font-family='"Liberation Sans", sans-serif' font-size="19.5" font-weight="normal" textLength="11.1" lengthAdjust="spacingAndGlyphs" stroke="#000" stroke-width="0.6">4</text>
<line x1="425.3" y1="384.5" x2="425.3" y2="388.5" stroke="#000" stroke-width="1"/>
<line x1="428.0" y1="384.5" x2="428.0" y2="388.5" stroke="#000" stroke-width="1"/>
<text x="430.3" y="398.8" font-family='"Liberation Sans", sans-serif' font-size="12.5" font-weight="normal" textLength="6.7" lengthAdjust="spacingAndGlyphs" stroke="#000" stroke-width="0.6">x</text>
<rect x="452.7" y="384.7" width="2.7" height="14.1" fill="#000"/>
<text x="458.6" y="398.8" font-family='"Liberation Sans", sans-serif' font-size="19.5" font-weight="normal" textLength="12.4" lengthAdjust="spacingAndGlyphs" stroke="#000" stroke-width="0.6">4</text>
<line x1="472.8" y1="384.5" x2="472.8" y2="388.0" stroke="#000" stroke-width="1"/>
<rect x="199.7" y="580.0" width="2.9" height="15.2" fill="#000"/>
<text x="205.5" y="595.2" font-family='"Liberation Sans", sans-serif' font-size="21" font-weight="normal" textLength="11.2" lengthAdjust="spacingAndGlyphs" stroke="#000" stroke-width="0.6">2</text>
<line x1="218.3" y1="580.0" x2="218.3" y2="583.5" stroke="#000" stroke-width="1"/>
<text x="222.5" y="593.8" font-family='"Liberation Sans", sans-serif' font-size="13" font-weight="normal" textLength="7.8" lengthAdjust="spacingAndGlyphs" stroke="#000" stroke-width="0.6">x</text>
<rect x="238.0" y="580.0" width="2.9" height="15.2" fill="#000"/>
<rect x="245.0" y="580.0" width="2.9" height="15.2" fill="#000"/>
<line x1="250.2" y1="580.0" x2="250.2" y2="583.5" stroke="#000" stroke-width="1"/>
<line x1="250.7" y1="588.0" x2="255.0" y2="588.0" stroke="#000" stroke-width="1.6"/>
<text x="258.0" y="595.2" font-family='"Liberation Sans", sans-serif' font-size="21" font-weight="normal" textLength="12.5" lengthAdjust="spacingAndGlyphs" stroke="#000" stroke-width="0.6">4</text>
<line x1="272.5" y1="579.5" x2="272.5" y2="583.5" stroke="#000" stroke-width="1"/>
<line x1="276.6" y1="579.5" x2="276.6" y2="583.5" stroke="#000" stroke-width="1"/>
</svg>
</body></html>
